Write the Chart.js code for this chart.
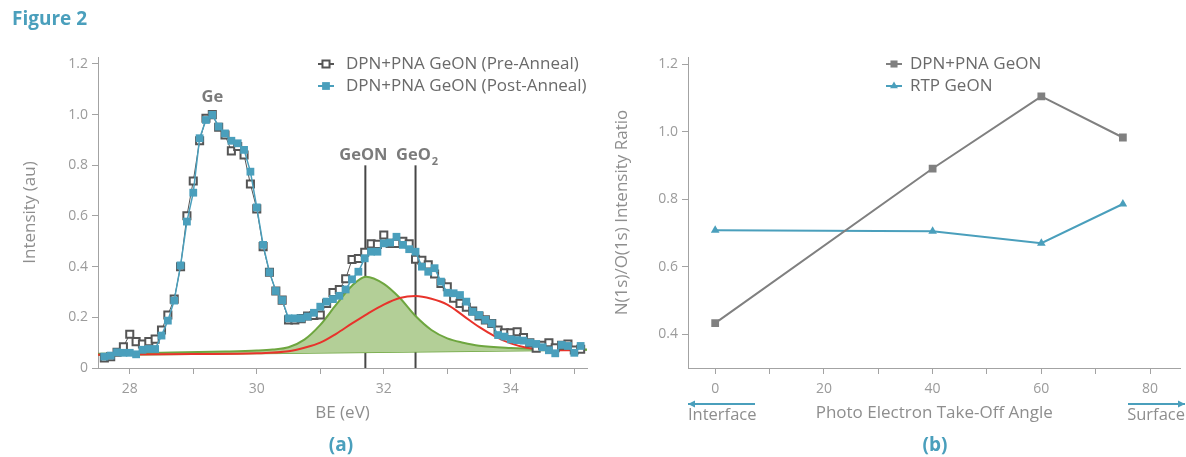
<!DOCTYPE html>
<html>
<head>
<meta charset="utf-8">
<title>Figure 2</title>
<script src="https://cdn.jsdelivr.net/npm/chart.js@4.4.1/dist/chart.umd.min.js"></script>
<style>
  html, body { margin: 0; padding: 0; background: #fff; }
  #wrap { position: relative; width: 1186px; height: 457px; overflow: hidden; }
  #wrap canvas { position: absolute; top: 0; }
  #xpsCanvas { left: 0; }
  #ratioCanvas { left: 600px; }
</style>
</head>
<body>
<div id="wrap">
  <canvas id="xpsCanvas" width="600" height="457"></canvas>
  <canvas id="ratioCanvas" width="586" height="457"></canvas>
</div>
<script>
// ---- (a) Ge 3d spectra, binding energy in eV ----
const BE = [
  27.6, 27.7, 27.8, 27.9, 28.0, 28.1, 28.2, 28.3, 28.4, 28.5,
  28.6, 28.7, 28.8, 28.9, 29.0, 29.1, 29.2, 29.3, 29.4, 29.5,
  29.6, 29.7, 29.8, 29.9, 30.0, 30.1, 30.2, 30.3, 30.4, 30.5,
  30.6, 30.7, 30.8, 30.9, 31.0, 31.1, 31.2, 31.3, 31.4, 31.5,
  31.6, 31.7, 31.8, 31.9, 32.0, 32.1, 32.2, 32.3, 32.4, 32.5,
  32.6, 32.7, 32.8, 32.9, 33.0, 33.1, 33.2, 33.3, 33.4, 33.5,
  33.6, 33.7, 33.8, 33.9, 34.0, 34.1, 34.2, 34.3, 34.4, 34.5,
  34.6, 34.7, 34.8, 34.9, 35.0, 35.1
];
const preAnneal = [
  0.040, 0.045, 0.062, 0.084, 0.133, 0.104, 0.095, 0.104, 0.114, 0.150,
  0.209, 0.272, 0.400, 0.601, 0.738, 0.897, 0.986, 1.000, 0.950, 0.920,
  0.857, 0.874, 0.841, 0.726, 0.628, 0.479, 0.378, 0.304, 0.268, 0.190,
  0.190, 0.195, 0.205, 0.207, 0.209, 0.255, 0.298, 0.310, 0.352, 0.428,
  0.432, 0.457, 0.490, 0.488, 0.525, 0.492, 0.492, 0.500, 0.490, 0.429,
  0.425, 0.407, 0.371, 0.334, 0.321, 0.275, 0.255, 0.240, 0.225, 0.205,
  0.190, 0.176, 0.150, 0.139, 0.139, 0.143, 0.120, 0.100, 0.078, 0.090,
  0.100, 0.080, 0.090, 0.095, 0.071, 0.074
];
const postAnneal = [
  0.045, 0.049, 0.062, 0.060, 0.060, 0.054, 0.072, 0.075, 0.075, 0.128,
  0.187, 0.266, 0.405, 0.578, 0.692, 0.907, 0.979, 0.999, 0.953, 0.926,
  0.897, 0.887, 0.861, 0.775, 0.634, 0.486, 0.378, 0.304, 0.268, 0.196,
  0.196, 0.196, 0.203, 0.218, 0.242, 0.262, 0.272, 0.285, 0.310, 0.350,
  0.380, 0.433, 0.459, 0.459, 0.492, 0.495, 0.518, 0.486, 0.469, 0.459,
  0.400, 0.380, 0.394, 0.341, 0.297, 0.295, 0.288, 0.262, 0.222, 0.209,
  0.190, 0.176, 0.130, 0.124, 0.113, 0.110, 0.108, 0.100, 0.095, 0.082,
  0.070, 0.058, 0.091, 0.087, 0.060, 0.087
];

// fitted components
const baseBE = [27.5, 35.2];
const baseI = [0.050, 0.071];
const geonBE = [27.5, 28.5, 29.5, 30.0, 30.25, 30.5, 30.75, 31.0, 31.25, 31.5, 31.72, 32.0, 32.25, 32.5, 32.75, 33.0, 33.25, 33.5, 34.0, 34.5, 35.2];
const geonI = [0.056, 0.060, 0.065, 0.069, 0.073, 0.082, 0.112, 0.170, 0.250, 0.325, 0.360, 0.332, 0.277, 0.205, 0.150, 0.117, 0.100, 0.088, 0.079, 0.075, 0.073];
const geo2BE = [27.5, 29.0, 30.0, 30.5, 30.75, 31.0, 31.25, 31.5, 31.75, 32.0, 32.25, 32.5, 32.75, 33.0, 33.25, 33.5, 33.75, 34.0, 34.25, 34.5, 35.0];
const geo2I = [0.052, 0.055, 0.058, 0.066, 0.080, 0.100, 0.135, 0.176, 0.215, 0.250, 0.276, 0.284, 0.273, 0.250, 0.207, 0.162, 0.125, 0.097, 0.080, 0.072, 0.070];

const beTicks = [28, 29, 30, 31, 32, 33, 34, 35];
const intensityTicks = [0, 0.2, 0.4, 0.6, 0.8, 1.0, 1.2];
const peakMarks = [
  { name: 'GeON', be: 31.71 },
  { name: 'GeO', sub: '2', be: 32.5 }
];

// ---- (b) N(1s)/O(1s) ratio vs take-off angle ----
const angles = [0, 40, 60, 75];
const dpnRatio = [0.433, 0.891, 1.105, 0.983];
const rtpRatio = [0.708, 0.705, 0.670, 0.786];
const angleTicks = [0, 10, 20, 30, 40, 50, 60, 70, 80];
const ratioTicks = [0.4, 0.6, 0.8, 1.0, 1.2];

const FONT = "'Open Sans', sans-serif";
const BLUE = '#4a9fbc';
const DARK = '#555555';
const GREY = '#808080';
const AXIS = '#a3a3a3';
const TICK_TXT = '#9b9b9b';
const TITLE_TXT = '#8e8e8e';
const LEGEND_TXT = '#6a6a6a';

Chart.defaults.font.family = FONT;
Chart.defaults.color = TICK_TXT;

function pairs(xs, ys) {
  return xs.map((x, i) => ({ x: x, y: ys[i] }));
}

function fixedTicks(values) {
  return scale => { scale.ticks = values.map(v => ({ value: v })); };
}

function text(ctx, str, x, y, opts) {
  ctx.save();
  ctx.font = opts.font;
  ctx.fillStyle = opts.color;
  ctx.textAlign = opts.align || 'center';
  ctx.textBaseline = 'middle';
  ctx.fillText(str, x, y);
  ctx.restore();
}

function legendRow(ctx, x, y, gap, label, color, point, fill) {
  ctx.save();
  ctx.strokeStyle = color;
  ctx.lineWidth = 2;
  ctx.beginPath();
  ctx.moveTo(x - 8, y);
  ctx.lineTo(x + 8, y);
  ctx.stroke();
  ctx.fillStyle = fill;
  Chart.helpers.drawPoint(ctx, point, x, y);
  ctx.restore();
  text(ctx, label, x + gap, y, { font: '17px ' + FONT, color: LEGEND_TXT, align: 'left' });
}

function arrow(ctx, x1, x2, y, dir) {
  ctx.save();
  ctx.strokeStyle = BLUE;
  ctx.fillStyle = BLUE;
  ctx.lineWidth = 2;
  ctx.beginPath();
  ctx.moveTo(x1, y);
  ctx.lineTo(x2, y);
  ctx.stroke();
  const tip = dir < 0 ? x1 : x2;
  ctx.beginPath();
  ctx.moveTo(tip, y);
  ctx.lineTo(tip - dir * 7, y - 3.5);
  ctx.lineTo(tip - dir * 7, y + 3.5);
  ctx.closePath();
  ctx.fill();
  ctx.restore();
}

function axisOpts(min, max, ticks, fmt, title, titlePad, tickPad) {
  return {
    type: 'linear',
    min: min,
    max: max,
    afterBuildTicks: fixedTicks(ticks),
    ticks: { color: TICK_TXT, font: { size: 14 }, padding: tickPad, callback: fmt },
    grid: { drawOnChartArea: false, drawTicks: true, tickLength: 6, color: AXIS, lineWidth: 1 },
    border: { display: true, color: AXIS, width: 1 },
    title: { display: !!title, text: title, color: TITLE_TXT, font: { size: 17 }, padding: titlePad }
  };
}

// ---------- chart (a) ----------
const xpsDecor = {
  id: 'xpsDecor',
  beforeDatasetsDraw(chart) {
    const { ctx, scales: { x, y } } = chart;
    ctx.save();
    ctx.strokeStyle = '#464646';
    ctx.lineWidth = 2;
    peakMarks.forEach(p => {
      const px = x.getPixelForValue(p.be);
      ctx.beginPath();
      ctx.moveTo(px, y.getPixelForValue(0.80));
      ctx.lineTo(px, y.getPixelForValue(0));
      ctx.stroke();
    });
    ctx.restore();
  },
  afterDraw(chart) {
    const { ctx, scales: { x, y } } = chart;
    const bold = 'bold 16.5px ' + FONT;
    const labelCol = '#7b7b7b';
    text(ctx, 'Ge', x.getPixelForValue(29.3), y.getPixelForValue(1.067), { font: bold, color: labelCol });
    const ly = y.getPixelForValue(0.838);
    const geon = peakMarks[0], geo2 = peakMarks[1];
    text(ctx, geon.name, x.getPixelForValue(geon.be) - 2, ly, { font: bold, color: labelCol });
    const gx = x.getPixelForValue(geo2.be) - 2;
    text(ctx, geo2.name, gx, ly, { font: bold, color: labelCol });
    ctx.save();
    ctx.font = bold;
    const w = ctx.measureText(geo2.name).width;
    ctx.restore();
    text(ctx, geo2.sub, gx + w / 2 + 4, ly + 6, { font: 'bold 11px ' + FONT, color: labelCol });

    legendRow(ctx, 326, 64, 20, 'DPN+PNA GeON (Pre-Anneal)', DARK,
      { pointStyle: 'rect', radius: 5, rotation: 0, borderWidth: 2 }, '#ffffff');
    legendRow(ctx, 326, 86, 20, 'DPN+PNA GeON (Post-Anneal)', BLUE,
      { pointStyle: 'rect', radius: 5.5, rotation: 0, borderWidth: 0 }, BLUE);

    text(ctx, 'Figure 2', 12, 20, { font: 'bold 19px ' + FONT, color: BLUE, align: 'left' });
    text(ctx, '(a)', 341, 446, { font: 'bold 19px ' + FONT, color: BLUE });
  }
};

new Chart(document.getElementById('xpsCanvas'), {
  type: 'line',
  data: {
    datasets: [
      {
        label: 'Baseline',
        data: pairs(baseBE, baseI),
        borderColor: '#6ea63f',
        borderWidth: 1.5,
        pointRadius: 0,
        order: 5
      },
      {
        label: 'GeON fit',
        data: pairs(geonBE, geonI),
        borderColor: '#6ea63f',
        borderWidth: 2,
        backgroundColor: '#b3cf97',
        fill: 0,
        cubicInterpolationMode: 'monotone',
        pointRadius: 0,
        order: 4
      },
      {
        label: 'GeO2 fit',
        data: pairs(geo2BE, geo2I),
        borderColor: '#e8332b',
        borderWidth: 2,
        cubicInterpolationMode: 'monotone',
        pointRadius: 0,
        order: 3
      },
      {
        label: 'DPN+PNA GeON (Pre-Anneal)',
        data: pairs(BE, preAnneal),
        borderColor: DARK,
        borderWidth: 1,
        pointStyle: 'rect',
        pointRadius: 5,
        pointBorderWidth: 2,
        pointBorderColor: DARK,
        pointBackgroundColor: '#ffffff',
        order: 2
      },
      {
        label: 'DPN+PNA GeON (Post-Anneal)',
        data: pairs(BE, postAnneal),
        borderColor: BLUE,
        borderWidth: 1.5,
        pointStyle: 'rect',
        pointRadius: 5.5,
        pointBorderWidth: 0,
        pointBackgroundColor: BLUE,
        order: 1
      }
    ]
  },
  options: {
    responsive: false,
    animation: false,
    layout: { padding: { top: 57, right: 13, left: 0, bottom: 0 } },
    plugins: { legend: { display: false }, tooltip: { enabled: false } },
    scales: {
      x: Object.assign(axisOpts(27.5, 35.2, beTicks,
        v => (Math.round(v) % 2 === 0 ? String(v) : ''), 'BE (eV)', { bottom: 34 }, 7),
        { afterFit: s => { s.height = 89; } }),
      y: Object.assign(axisOpts(0, 1.2276, intensityTicks,
        v => (v === 0 ? '0' : v.toFixed(1)), 'Intensity (au)', { top: 20 }, 4),
        { afterFit: s => { s.width = 98; } })
    }
  },
  plugins: [xpsDecor]
});

// ---------- chart (b) ----------
const ratioDecor = {
  id: 'ratioDecor',
  afterDraw(chart) {
    const { ctx } = chart;
    legendRow(ctx, 294, 64, 16, 'DPN+PNA GeON', GREY,
      { pointStyle: 'rect', radius: 5, rotation: 0, borderWidth: 0 }, GREY);
    legendRow(ctx, 294, 86, 16, 'RTP GeON', BLUE,
      { pointStyle: 'triangle', radius: 4.5, rotation: 0, borderWidth: 0 }, BLUE);
    arrow(ctx, 88, 155, 404, -1);
    arrow(ctx, 528, 585, 404, 1);
    text(ctx, 'Interface', 88, 415, { font: '16.5px ' + FONT, color: TITLE_TXT, align: 'left' });
    text(ctx, 'Surface', 585, 415, { font: '16.5px ' + FONT, color: TITLE_TXT, align: 'right' });
    text(ctx, '(b)', 335, 446, { font: 'bold 19px ' + FONT, color: BLUE });
  }
};

new Chart(document.getElementById('ratioCanvas'), {
  type: 'line',
  data: {
    datasets: [
      {
        label: 'DPN+PNA GeON',
        data: pairs(angles, dpnRatio),
        borderColor: GREY,
        borderWidth: 2,
        pointStyle: 'rect',
        pointRadius: 5.5,
        pointBorderWidth: 0,
        pointBackgroundColor: GREY
      },
      {
        label: 'RTP GeON',
        data: pairs(angles, rtpRatio),
        borderColor: BLUE,
        borderWidth: 2,
        pointStyle: 'triangle',
        pointRadius: 5,
        pointBorderWidth: 0,
        pointBackgroundColor: BLUE
      }
    ]
  },
  options: {
    responsive: false,
    animation: false,
    layout: { padding: { top: 57, right: 0, left: 0, bottom: 0 } },
    plugins: { legend: { display: false }, tooltip: { enabled: false } },
    scales: {
      x: Object.assign(axisOpts(-5, 85.6, angleTicks,
        v => (v % 20 === 0 ? String(v) : ''), 'Photo Electron Take-Off Angle', { bottom: 34 }, 7),
        { afterFit: s => { s.height = 89; } }),
      y: Object.assign(axisOpts(0.3, 1.2215, ratioTicks,
        v => v.toFixed(1), 'N(1s)/O(1s) Intensity Ratio', { top: 12 }, 4),
        { afterFit: s => { s.width = 88; } })
    }
  },
  plugins: [ratioDecor]
});
</script>
</body>
</html>
